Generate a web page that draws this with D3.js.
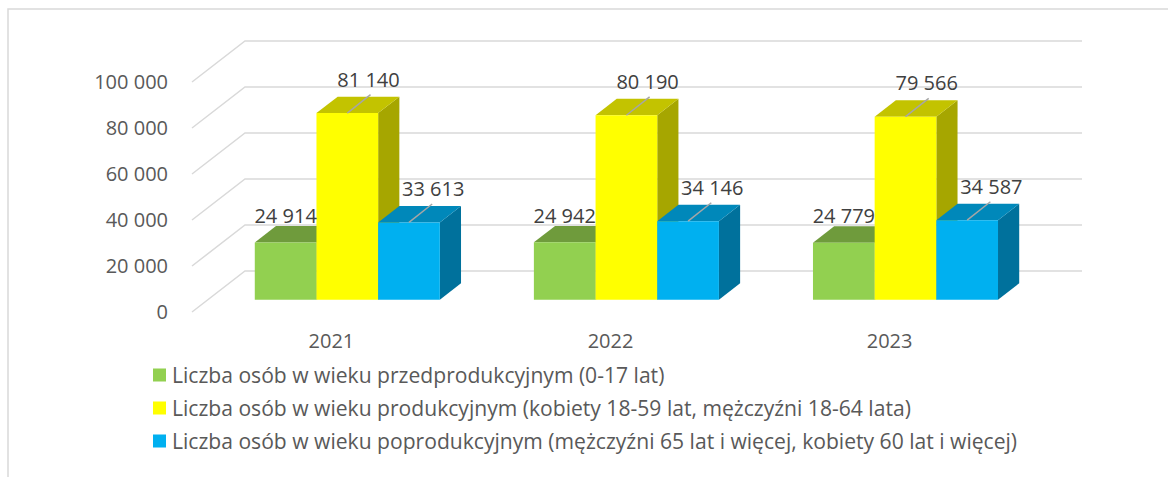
<!DOCTYPE html>
<html>
<head>
<meta charset="utf-8">
<script src="https://cdn.jsdelivr.net/npm/d3@7"></script>
<style>
  body { margin: 0; background: #fff; }
  text { font-family: "Open Sans", "Liberation Sans", sans-serif; }
</style>
</head>
<body>
<div id="chart"></div>
<script>
// data
var years = ["2021", "2022", "2023"];
var seriesNames = [
  "Liczba osób w wieku przedprodukcyjnym (0-17 lat)",
  "Liczba osób w wieku produkcyjnym (kobiety 18-59 lat, mężczyźni 18-64 lata)",
  "Liczba osób w wieku poprodukcyjnym (mężczyźni 65 lat i więcej, kobiety 60 lat i więcej)"
];
var przed = [24914, 24942, 24779];
var prod = [81140, 80190, 79566];
var poprod = [33613, 34146, 34587];
var yTicks = [0, 20000, 40000, 60000, 80000, 100000];

var colors = [
  {front: "#92D050", top: "#6F9B3C", side: "#5F8734"},
  {front: "#FFFF00", top: "#C3C300", side: "#A6A600"},
  {front: "#00B0F0", top: "#0088BA", side: "#00719C"}
];

var width = 1168, height = 477;
var DX = 53, DY = 41;      // depth offset of the back wall
var z0 = 0.3, z1 = 0.7;    // bar depth

var svg = d3.select("#chart").append("svg")
    .attr("width", width)
    .attr("height", height);

// outer frame
svg.append("rect")
    .attr("x", 8).attr("y", 9)
    .attr("width", width + 20).attr("height", height + 20)
    .attr("fill", "none")
    .attr("stroke", "#D9D9D9")
    .attr("stroke-width", 1.5);

var x = d3.scaleBand().domain(years).range([192, 1029]).paddingInner(0.337).paddingOuter(0.168);
var xs = d3.scaleBand().domain([0, 1, 2]).range([0, x.bandwidth()]);
var y = d3.scaleLinear().domain([0, 100000]).range([312, 82]);

function P(xf, v, z) { return [xf + z * DX, y(v) - z * DY]; }

// grid: side wall diagonals + back wall lines
var grid = svg.append("g").attr("stroke", "#D9D9D9").attr("stroke-width", 1.5).attr("fill", "none");
yTicks.forEach(function(t) {
  var a = P(192, t, 0), b = P(192, t, 1), c = P(1029, t, 1);
  grid.append("path").attr("d", "M" + a + "L" + b + "L" + c);
});

var fmt = function(v) { return d3.format(",")(v).replace(/,/g, " "); };

// y labels
svg.append("g").selectAll("text").data(yTicks).enter().append("text")
    .attr("x", 168)
    .attr("y", function(d) { return y(d) + 7; })
    .attr("text-anchor", "end")
    .attr("font-size", 20)
    .attr("fill", "#595959")
    .text(fmt);

// x labels
svg.append("g").selectAll("text").data(years).enter().append("text")
    .attr("x", function(d) { return x(d) + x.bandwidth() / 2; })
    .attr("y", 348)
    .attr("text-anchor", "middle")
    .attr("font-size", 20)
    .attr("fill", "#595959")
    .text(function(d) { return d; });

// bars
var values = [przed, prod, poprod];
var bars = [];
years.forEach(function(yr, i) {
  values.forEach(function(arr, s) {
    bars.push({year: yr, s: s, v: arr[i]});
  });
});

function poly(pts) { return "M" + pts.join("L") + "Z"; }

var barG = svg.append("g");
bars.forEach(function(d) {
  var xl = x(d.year) + xs(d.s), xr = xl + xs.bandwidth();
  var c = colors[d.s];
  // right side
  barG.append("path")
      .attr("d", poly([P(xr, 0, z0), P(xr, d.v, z0), P(xr, d.v, z1), P(xr, 0, z1)]))
      .attr("fill", c.side);
  // top
  barG.append("path")
      .attr("d", poly([P(xl, d.v, z0), P(xr, d.v, z0), P(xr, d.v, z1), P(xl, d.v, z1)]))
      .attr("fill", c.top);
  // front
  barG.append("path")
      .attr("d", poly([P(xl, 0, z0), P(xr, 0, z0), P(xr, d.v, z0), P(xl, d.v, z0)]))
      .attr("fill", c.front);
});

// data labels
var lab = svg.append("g");
bars.forEach(function(d) {
  var xm = x(d.year) + xs(d.s) + xs.bandwidth() / 2;
  var f = P(xm, d.v, z0), b = P(xm, d.v, z1);
  if (d.s === 0) {
    lab.append("text").attr("x", f[0]).attr("y", b[1] - 3)
        .attr("text-anchor", "middle").attr("font-size", 20).attr("fill", "#404040").text(fmt(d.v));
  } else {
    lab.append("line")
        .attr("x1", f[0]).attr("y1", f[1]).attr("x2", b[0] + 2).attr("y2", b[1] - 2)
        .attr("stroke", "#A6A6A6").attr("stroke-width", 1.5);
    lab.append("text").attr("x", b[0] + (d.s === 2 ? 3 : 0)).attr("y", b[1] - 10)
        .attr("text-anchor", "middle").attr("font-size", 20).attr("fill", "#404040").text(fmt(d.v));
  }
});

// legend
var leg = svg.append("g").selectAll("g").data(seriesNames).enter().append("g")
    .attr("transform", function(d, i) { return "translate(153," + (375 + i * 33) + ")"; });
leg.append("rect").attr("x", 0).attr("y", -6.5).attr("width", 13).attr("height", 13)
    .attr("fill", function(d, i) { return colors[i].front; });
leg.append("text").attr("x", 19).attr("y", 7.5)
    .attr("font-size", 21.1).attr("fill", "#595959")
    .text(function(d) { return d; });
</script>
</body>
</html>
